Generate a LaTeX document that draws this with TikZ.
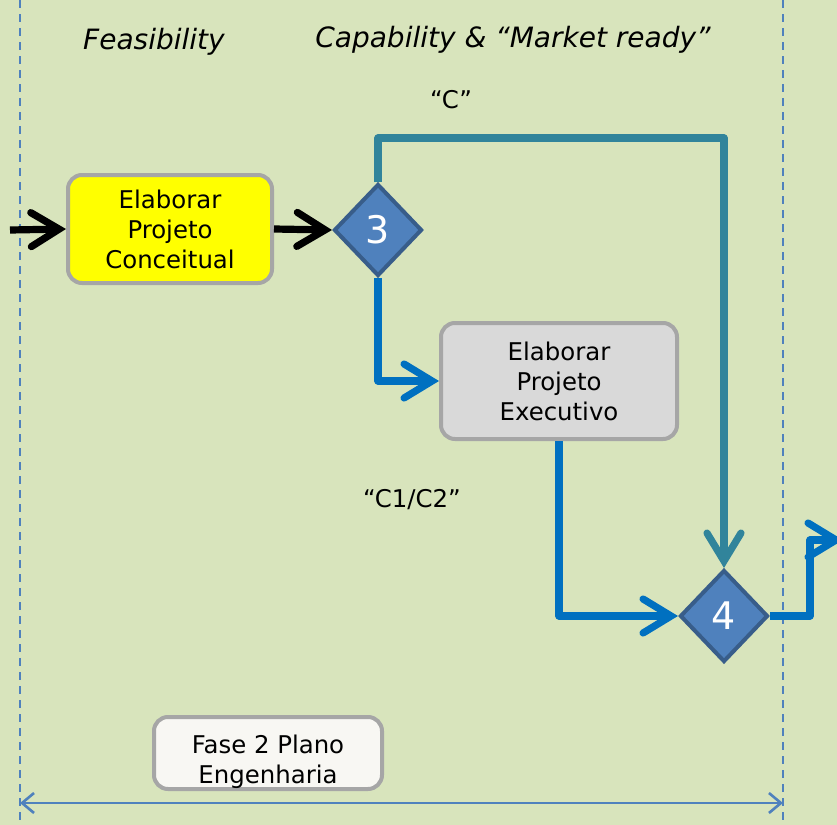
\documentclass[tikz,border=0pt]{standalone}
\usepackage{fontspec}
\setmainfont{DejaVu Sans}
\usetikzlibrary{shapes.geometric,arrows.meta}

\definecolor{fundo}{RGB}{216,228,188}
\definecolor{amarelo}{RGB}{255,255,0}
\definecolor{cinza}{RGB}{166,166,166}
\definecolor{azul}{RGB}{79,129,189}
\definecolor{azulesc}{RGB}{56,93,138}
\definecolor{azulseta}{RGB}{0,112,192}
\definecolor{verdeagua}{RGB}{49,132,155}
\definecolor{cinzacl}{RGB}{217,217,217}
\definecolor{branco}{RGB}{248,247,243}

\begin{document}
\begin{tikzpicture}[x=0.5pt, y=-0.5pt,
	caixa/.style={draw=cinza, line width=2pt, rounded corners=7pt, align=center, inner sep=0pt, font=\fontsize{12.2}{15}\selectfont},
	losango/.style={diamond, draw=azulesc, fill=azul, line width=2pt, minimum width=44pt, minimum height=46pt, inner sep=0pt, text=white, font=\fontsize{19}{22}\selectfont},
	seta/.style={line width=3.6pt, line join=round, -{Straight Barb[length=14pt, width=17pt, line cap=round]}},
	divisa/.style={azul, line width=1.1pt, dash pattern=on 4pt off 3pt},
	rotulo/.style={font=\fontsize{12.2}{15}\selectfont}
	]
	\useasboundingbox (0,0) rectangle (837,825);
	\fill[fundo] (0,0) rectangle (837,825);
	% limites da fase
	\coordinate (l1) at (20,803);
	\coordinate (l2) at (783,803);
	\draw[divisa] (20,0) -- (20,825);
	\draw[divisa] (783,0) -- (783,825);
	\draw[azul, line width=1.3pt, {Straight Barb[length=6pt, width=10pt]}-{Straight Barb[length=6pt, width=10pt]}] (l1) -- (l2);
	% titulos
	\node[font=\fontsize{14}{17}\selectfont\itshape] (tit1) at (154,42) {Feasibility};
	\node[font=\fontsize{14}{17}\selectfont\itshape] (tit2) at (513,40) {Capability \& “Market ready”};
	\node[rotulo] (rc) at (451,100) {“C”};
	\node[rotulo] (rc12) at (412,500) {“C1/C2”};
	% atividades
	\node[caixa, fill=amarelo, minimum width=102pt, minimum height=54pt] (b1) at (170,229) {Elaborar\\Projeto\\Conceitual};
	\node[caixa, fill=cinzacl, minimum width=118pt, minimum height=58pt] (b2) at (559,381) {Elaborar\\Projeto\\Executivo};
	\node[caixa, fill=branco, minimum width=114pt, minimum height=36pt] (b3) at (268,753) {};
	\node[rotulo, align=center] (t3) at (268,762) {Fase 2 Plano\\Engenharia};
	% decisoes
	\node[losango] (d3) at (378,230) {3};
	\node[losango] (d4) at (724,616) {4};
	% fluxos
	\coordinate (ent) at (10,230);
	\coordinate (saida) at (843,540);
	\draw[seta] (ent) -- (b1.west);
	\draw[seta] (b1.east) -- (d3.west);
	\draw[seta, verdeagua] (d3.north) -- ++(0,-44) -| (d4.north);
	\draw[seta, azulseta] (d3.south) |- (b2.west);
	\draw[seta, azulseta] (b2.south) |- (d4.west);
	\draw[seta, azulseta] (d4.east) -- ++(40,0) |- (saida);
\end{tikzpicture}
\end{document}
